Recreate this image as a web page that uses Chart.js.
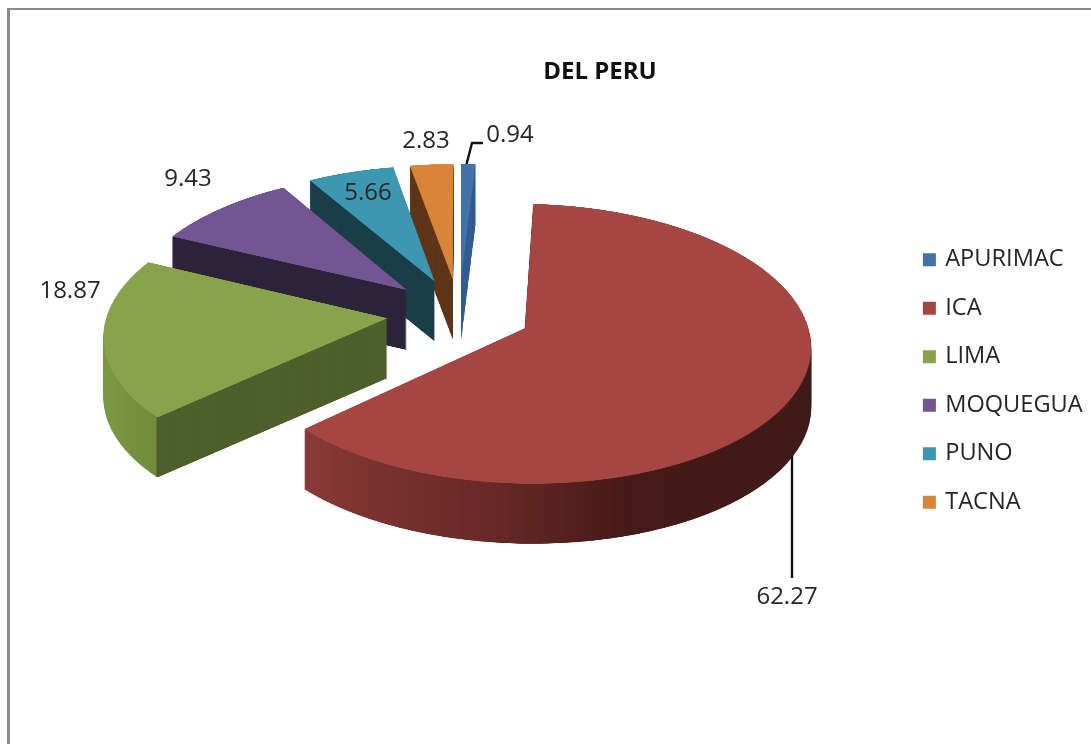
<!DOCTYPE html>
<html><head><meta charset="utf-8">
<script src="https://cdn.jsdelivr.net/npm/chart.js@4/dist/chart.umd.js"></script>
<style>
html,body{margin:0;padding:0;background:#fff;overflow:hidden}
#wrap{position:absolute;left:0;top:0;width:1091px;height:744px}
#frame{position:absolute;left:7px;top:8px;right:0;bottom:0;border-left:3px solid #8a8a8a;border-top:2px solid #8a8a8a;pointer-events:none}
canvas{position:absolute;left:0;top:0}
</style></head><body>
<div id="wrap"><canvas id="c" width="1091" height="744"></canvas><div id="frame"></div></div>
<script>
const categories = ['APURIMAC','ICA','LIMA','MOQUEGUA','PUNO','TACNA'];
const values = [0.94,62.27,18.87,9.43,5.66,2.83];
const chartTitle = 'DEL PERU';
const topColors = ['#4372A8','#A64643','#89A34D','#735594','#3E97B0','#DA843A'];
// side-wall colour stops: [screen x, colour]
const sideStops = [
  [[0,'#335E92'],[1,'#335E92']],
  [[300,'#8A3A37'],[400,'#75302D'],[500,'#662826'],[620,'#471A18'],[815,'#3F1B18']],
  [[100,'#7E9A44'],[156,'#718B3A'],[157,'#4E5F2B'],[400,'#4E5F2B']],
  [[0,'#2D2339'],[1,'#2D2339']],
  [[0,'#1A3E48'],[1,'#1A3E48']],
  [[0,'#5E3518'],[1,'#5E3518']]
];
const drawOrder = [0,5,4,3,2,1];
const labelAnchors = [[510,135],[787,597],[70,291],[188,179],[368,193],[426,141]];
const leaders = [[[465,170],[472,143],[483,143]],[[792,430],[792,578]]];
const view = {X0:459,Y0:313,a:280,b:135,k:0.11,depth:60,explode:51.5,radius:200};
const FONT = '"Open Sans"';

function warp(arc,W,H){
  const R=arc.outerRadius,S=2,OFF=Math.ceil(R*3.2*S),c=OFF/2;
  const off=document.createElement('canvas');off.width=off.height=OFF;
  const o=off.getContext('2d');
  const mid=(arc.startAngle+arc.endAngle)/2;
  o.setTransform(S,0,0,S,c-arc.x*S+Math.cos(mid)*view.explode*S,c-arc.y*S+Math.sin(mid)*view.explode*S);
  arc.draw(o);
  const dst=document.createElement('canvas');dst.width=W;dst.height=H;
  const d=dst.getContext('2d');d.imageSmoothingEnabled=true;
  const {X0,Y0,a,b,k}=view;
  const vAt=y=>{const dy=y-Y0;return dy/(b+k*dy);};
  for(let Y=0;Y<H;Y++){
    const v=vAt(Y+.5);
    if(Math.abs(v)>1.55)continue;
    const w=1-k*v;
    const sh=Math.max(.5,(vAt(Y+1)-vAt(Y))*R*S);
    const sy=c+v*R*S-sh/2;
    const sc=(a/w)/(R*S);
    if(sy<0||sy+sh>OFF)continue;
    d.drawImage(off,0,sy,OFF,sh,X0-c*sc,Y,OFF*sc,1);
  }
  return dst;
}
function sideOf(mask,stops,W,H){
  const s=document.createElement('canvas');s.width=W;s.height=H;
  const g=s.getContext('2d');
  g.drawImage(mask,0,0);
  g.globalCompositeOperation='source-in';
  const x0=stops[0][0],x1=stops[stops.length-1][0];
  const lg=g.createLinearGradient(x0,0,x1,0);
  stops.forEach(p=>lg.addColorStop((p[0]-x0)/(x1-x0),p[1]));
  g.fillStyle=lg;g.fillRect(0,0,W,H);
  return s;
}
const pie3d={
  id:'pie3d',
  afterLayout(chart){
    const t=chart.titleBlock;t.left=486;t.right=714;
    const l=chart.legend;l.left=900.5;l.right=1091;l.top+=9;l.bottom+=9;
  },
  beforeDatasetsDraw(chart){
    const arcs=chart.getDatasetMeta(0).data,ctx=chart.ctx,W=chart.width,H=chart.height;
    ctx.save();
    ctx.strokeStyle='#111';ctx.lineWidth=2.4;
    leaders.forEach(p=>{ctx.beginPath();p.forEach((q,i)=>i?ctx.lineTo(q[0],q[1]):ctx.moveTo(q[0],q[1]));ctx.stroke();});
    drawOrder.forEach(i=>{
      const mask=warp(arcs[i],W,H);
      const side=sideOf(mask,sideStops[i],W,H);
      for(let d=view.depth;d>=1;d--)ctx.drawImage(side,0,d);
      ctx.drawImage(mask,0,0);
    });
    ctx.restore();
    return false;
  },
  afterDraw(chart){
    const ctx=chart.ctx;
    ctx.save();
    ctx.fillStyle='#262626';ctx.font='24px '+FONT;ctx.textAlign='center';ctx.textBaseline='middle';
    values.forEach((v,i)=>ctx.fillText(v.toFixed(2),labelAnchors[i][0],labelAnchors[i][1]));
    ctx.restore();
  }
};
new Chart(document.getElementById('c'),{
  type:'pie',
  data:{labels:categories,datasets:[{data:values,backgroundColor:topColors,borderWidth:0}]},
  plugins:[pie3d],
  options:{
    responsive:false,animation:false,radius:view.radius,
    layout:{padding:0},
    plugins:{
      tooltip:{enabled:false},
      title:{display:true,text:chartTitle,color:'#111',font:{family:FONT,size:24,weight:'bold'},padding:{top:58,bottom:6}},
      legend:{position:'right',labels:{
        color:'#262626',font:{family:FONT,size:23.6},boxWidth:8,boxHeight:8,padding:24.9,
        generateLabels(ch){
          return Chart.overrides.doughnut.plugins.legend.labels.generateLabels(ch).map(x=>Object.assign(x,{strokeStyle:x.fillStyle,lineWidth:5}));
        }
      }}
    }
  }
});
</script></body></html>
